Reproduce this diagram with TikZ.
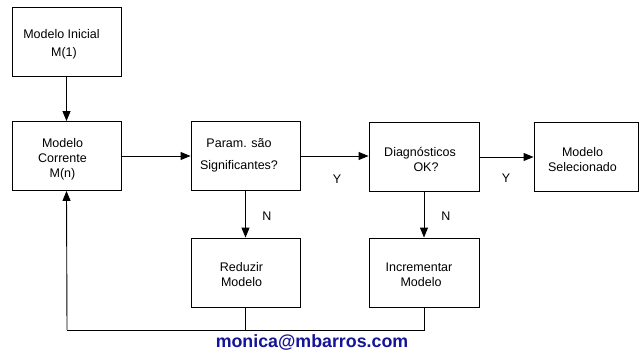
\documentclass[tikz,border=0pt]{standalone}
\usepackage{fontspec}
\setmainfont{Liberation Sans}
\usetikzlibrary{arrows.meta}
\definecolor{mailblue}{RGB}{20,20,150}
\begin{document}
\begin{tikzpicture}[x=1pt,y=-1pt,
  box/.style={draw,line width=0.9pt,rectangle,inner sep=0pt,minimum width=109pt,minimum height=69pt},
  txt/.style={font=\fontsize{12.5}{15}\selectfont,align=center,inner sep=0pt},
  conn/.style={line width=0.9pt},
  arr/.style={conn,-{Triangle[length=10pt,width=8pt]}}]
\useasboundingbox (0,0) rectangle (639,350);
% boxes
\node[box] (ini) at (66.5,41.5) {};
\node[box] (cor) at (66.5,156) {};
\node[box] (par) at (245.5,156) {};
\node[box,minimum width=110pt] (dia) at (424,157) {};
\node[box,minimum width=104pt] (sel) at (586,157) {};
\node[box] (red) at (245.5,272.5) {};
\node[box,minimum width=110pt] (inc) at (424,272.5) {};
% texts
\node[txt,font=\fontsize{12.5}{18}\selectfont] (tini) at (61.5,44) {Modelo Inicial\\\hspace*{5pt}M(1)};
\node[txt] (tcor) at (62.5,159) {Modelo\\Corrente\\M(n)};
\node[txt,font=\fontsize{12.5}{22.5}\selectfont] (tpar) at (239,155.5) {Param. são\\Significantes?};
\node[txt] (tdia) at (420,159.5) {Diagnósticos\\\hspace*{12pt}OK?};
\node[txt] (tsel) at (582.5,159.5) {Modelo\\Selecionado};
\node[txt] (tred) at (241.5,274.5) {Reduzir\\Modelo};
\node[txt] (tinc) at (419,274.5) {Incrementar\\\hspace*{4pt}Modelo};
% labels
\node[txt] (y1) at (337,179) {Y};
\node[txt] (y2) at (506,178) {Y};
\node[txt] (n1) at (267,216) {N};
\node[txt] (n2) at (446,216) {N};
% connectors
\coordinate (bot) at (67,330);
\draw[arr] (ini.south) -- (cor.north);
\draw[arr] (cor.east) -- (par.west);
\draw[arr] (par.east) -- (par.east -| dia.west);
\draw[arr] (dia.east) -- (sel.west);
\draw[arr] (par.south) -- (red.north);
\draw[arr] (dia.south) -- (inc.north);
\draw[conn] (red.south) -- (red.south |- bot);
\draw[conn] (inc.south) -- (inc.south |- bot) -- (bot);
\draw[arr] (bot) -- (cor.south);
% footer
\node[inner sep=0pt,font=\bfseries\fontsize{17.8}{20}\selectfont,text=mailblue] (mail) at (312,342) {monica@mbarros.com};
\end{tikzpicture}
\end{document}
